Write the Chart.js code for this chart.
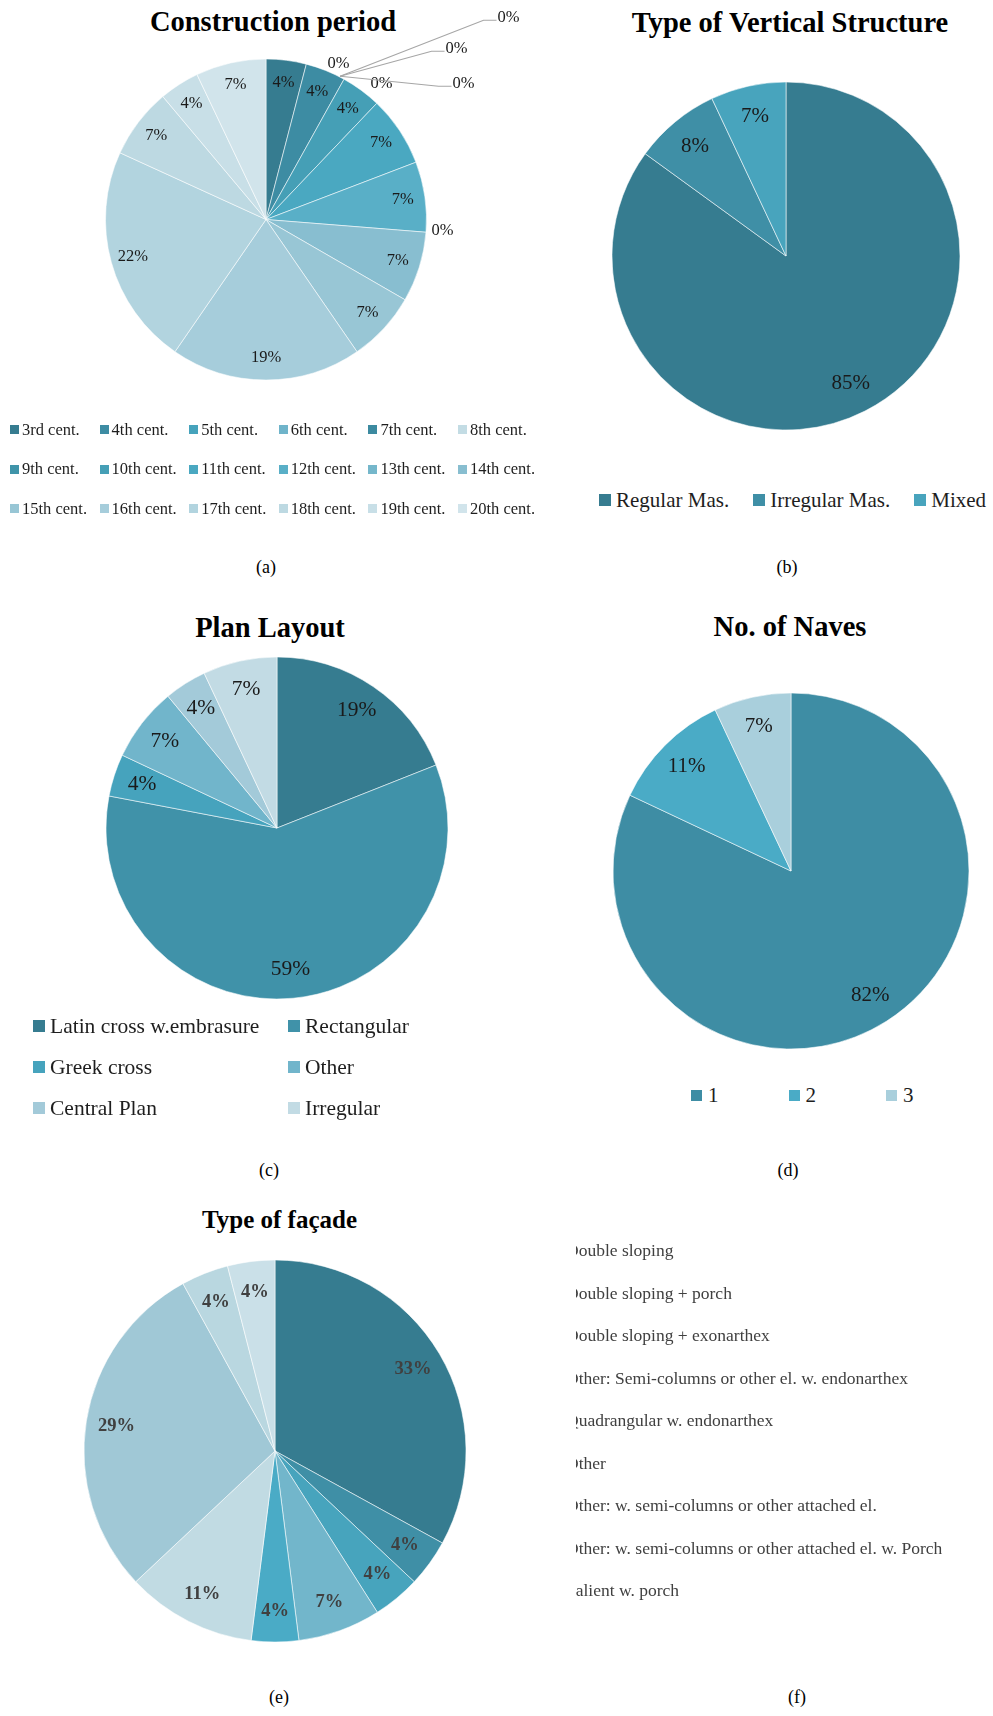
<!DOCTYPE html>
<html>
<head>
<meta charset="utf-8">
<script src="https://cdn.jsdelivr.net/npm/chart.js@4.4.1/dist/chart.umd.min.js"></script>
<style>
body { margin:0; background:#fff; font-family:"Liberation Serif","Times New Roman",serif; }
#page { position:relative; width:993px; height:1716px; overflow:hidden; background:#fff; }
.title { position:absolute; font-weight:bold; white-space:nowrap; transform:translate(-50%,-50%); color:#000; }
.cap { position:absolute; font-size:18px; transform:translate(-50%,-50%); color:#000; }
canvas { position:absolute; }
.legend { position:absolute; display:flex; flex-wrap:wrap; }
.legend .item { display:flex; align-items:center; white-space:nowrap; color:#1e1e1e; }
.legend .box { flex:none; display:inline-block; }
#facade-list { position:absolute; left:576px; top:1229px; width:400px; overflow:hidden; }
#facade-list div { margin-left:-10px; height:42.5px; line-height:42.5px; font-size:17.5px; color:#404040; white-space:nowrap; filter:blur(0.35px); }
</style>
</head>
<body>
<div id="page"></div>
<script>
// data (percent of churches)
const centuries = ['3rd cent.','4th cent.','5th cent.','6th cent.','7th cent.','8th cent.',
  '9th cent.','10th cent.','11th cent.','12th cent.','13th cent.','14th cent.',
  '15th cent.','16th cent.','17th cent.','18th cent.','19th cent.','20th cent.'];
const centuryShare = [4,4,0,0,0,0,0,4,7,7,0,7,7,19,22,7,4,7];
const centuryColors = ['#367c90','#3d8ca3','#46a3bc','#6fb4ca','#3c8aa0','#c3dce4',
  '#3f94a9','#459fb6','#4aa8c1','#59afc7','#75b7cb','#88bed0',
  '#98c6d5','#a6cddb','#b2d4df','#bdd9e2','#c8dfe7','#d1e4eb'];

const structureTypes = ['Regular Mas.','Irregular Mas.','Mixed'];
const structureShare = [85,8,7];
const structureColors = ['#367c90','#3f8fa6','#48a4bd'];

const planTypes = ['Latin cross w.embrasure','Rectangular','Greek cross','Other','Central Plan','Irregular'];
const planShare = [19,59,4,7,4,7];
const planColors = ['#367c90','#4092a9','#46a3bd','#71b5cb','#a3cad9','#c2dbe4'];

const naveCounts = ['1','2','3'];
const naveShare = [82,11,7];
const naveColors = ['#3e8da4','#4aabc6','#a9cfdc'];

const facadeTypes = ['Double sloping','Double sloping + porch','Double sloping + exonarthex',
  'Other: Semi-columns or other el. w. endonarthex','Quadrangular w. endonarthex','Other',
  'Other: w. semi-columns or other attached el.','Other: w. semi-columns or other attached el. w. Porch',
  'Salient w. porch'];
const facadeShare = [33,4,4,7,4,11,29,4,4];
const facadeColors = ['#367c90','#3f8fa6','#47a4bd','#72b6cb','#4aabc6','#c1dbe3','#a0c8d6','#b9d7e0','#cae0e8'];

const page = document.getElementById('page');
const serif = '"Liberation Serif","Times New Roman",serif';

// percent labels inside the slices, zero slices get placed labels (some with leader lines)
const pctLabels = {
  id: 'pctLabels',
  afterDatasetsDraw(chart, args, o) {
    const ctx = chart.ctx;
    const vals = chart.data.datasets[0].data;
    const arcs = chart.getDatasetMeta(0).data;
    ctx.save();
    ctx.font = o.font;
    ctx.fillStyle = o.color;
    ctx.textAlign = 'center';
    ctx.textBaseline = 'middle';
    let z = 0;
    arcs.forEach((arc, i) => {
      const p = arc.getProps(['x','y','startAngle','endAngle','outerRadius'], true);
      const txt = vals[i] + '%';
      if (vals[i] === 0) {
        const off = (o.zero || [])[z++];
        if (!off) return;
        const ex = p.x + Math.cos(p.startAngle) * p.outerRadius;
        const ey = p.y + Math.sin(p.startAngle) * p.outerRadius;
        const lx = ex + off[0], ly = ey + off[1];
        if (off[2]) {
          ctx.strokeStyle = '#a6a6a6';
          ctx.lineWidth = 1.2;
          ctx.beginPath();
          ctx.moveTo(ex - 4, ey - 3);
          ctx.lineTo(lx - 25, ly + 3);
          ctx.lineTo(lx - 12, ly + 3);
          ctx.stroke();
        }
        ctx.fillText(txt, lx, ly);
        return;
      }
      const mid = (p.startAngle + p.endAngle) / 2;
      const d = p.outerRadius * o.dist;
      ctx.fillText(txt, p.x + Math.cos(mid) * d, p.y + Math.sin(mid) * d);
    });
    ctx.restore();
  }
};

function addText(cls, txt, x, y, size) {
  const el = document.createElement('div');
  el.className = cls;
  el.textContent = txt;
  el.style.left = x + 'px';
  el.style.top = y + 'px';
  if (size) el.style.fontSize = size + 'px';
  page.appendChild(el);
}

function makePie(labels, values, colors, g, lab) {
  const cv = document.createElement('canvas');
  cv.width = g.w; cv.height = g.h;
  cv.style.left = (g.cx - g.w / 2) + 'px';
  cv.style.top = (g.cy - g.h / 2) + 'px';
  page.appendChild(cv);
  return new Chart(cv, {
    type: 'pie',
    data: {
      labels: labels,
      datasets: [{ data: values, backgroundColor: colors, borderColor: 'rgba(255,255,255,0.55)', borderWidth: 1 }]
    },
    options: {
      responsive: false,
      animation: false,
      events: [],
      radius: g.r,
      layout: { padding: 0 },
      plugins: { legend: { display: false }, title: { display: false }, tooltip: { enabled: false }, pctLabels: lab }
    },
    plugins: [pctLabels]
  });
}

function addLegend(chart, c) {
  const el = document.createElement('div');
  el.className = 'legend';
  el.style.left = c.x + 'px';
  el.style.top = c.y + 'px';
  el.style.width = c.width + 'px';
  if (c.nowrap) el.style.flexWrap = 'nowrap';
  const items = chart.options.plugins.legend.labels.generateLabels(chart);
  items.forEach(it => {
    const d = document.createElement('div');
    d.className = 'item';
    d.style.height = c.rowH + 'px';
    if (c.itemW) d.style.width = c.itemW + 'px'; else d.style.marginRight = c.gapAfter + 'px';
    const b = document.createElement('span');
    b.className = 'box';
    b.style.width = c.box + 'px';
    b.style.height = c.box + 'px';
    b.style.background = it.fillStyle;
    b.style.marginRight = c.gap + 'px';
    const t = document.createElement('span');
    t.textContent = it.text;
    t.style.fontSize = c.font + 'px';
    d.appendChild(b);
    d.appendChild(t);
    el.appendChild(d);
  });
  page.appendChild(el);
}

// (a) construction period
addText('title', 'Construction period', 273, 22, 28.5);
const chA = makePie(centuries, centuryShare, centuryColors,
  { cx: 265.5, cy: 219.5, w: 530, h: 439, r: 160.5 },
  { font: '16.5px ' + serif, color: '#1a1a1a', dist: 0.86,
    zero: [[-5.5, -16, false], [164.5, -62, true], [112.5, -31, true], [37.5, 4, false], [119.5, 4, true], [16.5, -2, false]] });
addLegend(chA, { x: 10, y: 410, width: 540, itemW: 89.6, rowH: 39.5, box: 9, gap: 3, font: 16.5 });
addText('cap', '(a)', 266, 567);

// (b) vertical structure
addText('title', 'Type of Vertical Structure', 790, 23, 28.5);
const chB = makePie(structureTypes, structureShare, structureColors,
  { cx: 786, cy: 256, w: 400, h: 400, r: 174 },
  { font: '21px ' + serif, color: '#1a1a1a', dist: 0.82 });
addLegend(chB, { x: 599, y: 485, width: 420, nowrap: true, rowH: 30, box: 12, gap: 5, gapAfter: 24, font: 21 });
addText('cap', '(b)', 787, 567);

// (c) plan layout
addText('title', 'Plan Layout', 270, 628, 28.5);
const chC = makePie(planTypes, planShare, planColors,
  { cx: 277, cy: 828, w: 380, h: 380, r: 171 },
  { font: '21.5px ' + serif, color: '#1a1a1a', dist: 0.83 });
addLegend(chC, { x: 33, y: 1005.5, width: 520, itemW: 255, rowH: 41, box: 12, gap: 5, font: 21.5 });
addText('cap', '(c)', 269, 1170);

// (d) number of naves
addText('title', 'No. of Naves', 790, 627, 28.5);
const chD = makePie(naveCounts, naveShare, naveColors,
  { cx: 791, cy: 871, w: 400, h: 400, r: 178 },
  { font: '21px ' + serif, color: '#1a1a1a', dist: 0.83 });
addLegend(chD, { x: 691, y: 1080, width: 300, itemW: 97.5, rowH: 30, box: 11, gap: 6, font: 21 });
addText('cap', '(d)', 788, 1170);

// (e) facade type
addText('title', 'Type of façade', 279.5, 1220, 25);
const chE = makePie(facadeTypes, facadeShare, facadeColors,
  { cx: 275, cy: 1451, w: 420, h: 420, r: 191 },
  { font: 'bold 18.5px ' + serif, color: '#404040', dist: 0.84 });
addText('cap', '(e)', 279, 1697);

// (f) legend of (e), cropped on the left as in the source figure
const fl = document.createElement('div');
fl.id = 'facade-list';
facadeTypes.forEach(t => {
  const d = document.createElement('div');
  d.textContent = t;
  fl.appendChild(d);
});
page.appendChild(fl);
addText('cap', '(f)', 797, 1697);
</script>
</body>
</html>
